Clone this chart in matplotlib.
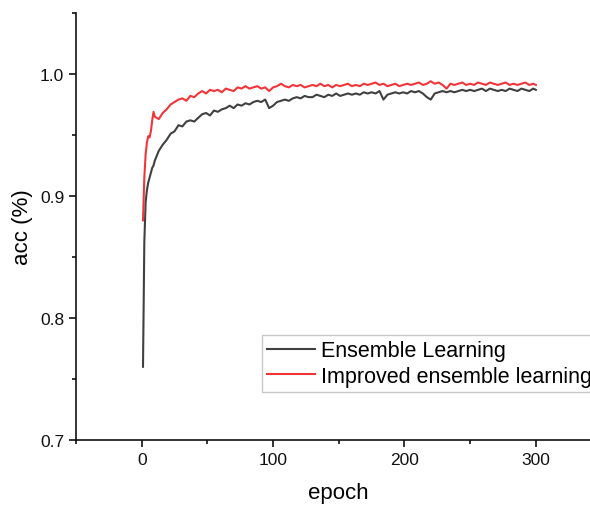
import matplotlib
matplotlib.use('Agg')
import matplotlib.pyplot as plt
from matplotlib.ticker import MultipleLocator

plt.rcParams['font.family'] = ['Liberation Sans', 'DejaVu Sans']

epochs = [1, 2, 3, 4, 5, 6, 7, 8, 9, 10,
          13, 16, 19, 22, 25, 28, 31, 34, 37, 40,
          43, 46, 49, 52, 55, 58, 61, 64, 67, 70,
          73, 76, 79, 82, 85, 88, 91, 94, 97, 100,
          103, 106, 109, 112, 115, 118, 121, 124, 127, 130,
          133, 136, 139, 142, 145, 148, 151, 154, 157, 160,
          163, 166, 169, 172, 175, 178, 181, 184, 187, 190,
          193, 196, 199, 202, 205, 208, 211, 214, 217, 220,
          223, 226, 229, 232, 235, 238, 241, 244, 247, 250,
          253, 256, 259, 262, 265, 268, 271, 274, 277, 280,
          283, 286, 289, 292, 295, 298, 300]

acc_ensemble = [0.760, 0.862, 0.895, 0.905, 0.911, 0.915, 0.919, 0.923, 0.925, 0.929,
                0.937, 0.942, 0.946, 0.951, 0.953, 0.958, 0.957, 0.961, 0.962, 0.961,
                0.964, 0.967, 0.968, 0.966, 0.970, 0.969, 0.971, 0.972, 0.974, 0.972,
                0.975, 0.974, 0.976, 0.975, 0.977, 0.978, 0.977, 0.979, 0.972, 0.974,
                0.977, 0.978, 0.979, 0.978, 0.980, 0.981, 0.980, 0.982, 0.981, 0.981,
                0.983, 0.982, 0.981, 0.983, 0.982, 0.984, 0.982, 0.983, 0.984, 0.983,
                0.984, 0.983, 0.985, 0.984, 0.985, 0.984, 0.986, 0.979, 0.983, 0.984,
                0.985, 0.984, 0.985, 0.984, 0.986, 0.985, 0.986, 0.984, 0.981, 0.979,
                0.984, 0.985, 0.986, 0.985, 0.986, 0.985, 0.986, 0.987, 0.986, 0.987,
                0.986, 0.987, 0.988, 0.986, 0.988, 0.987, 0.986, 0.987, 0.986, 0.988,
                0.987, 0.986, 0.988, 0.987, 0.986, 0.988, 0.987]

acc_improved = [0.880, 0.915, 0.934, 0.944, 0.949, 0.948, 0.953, 0.962, 0.969, 0.965,
                0.963, 0.968, 0.971, 0.975, 0.977, 0.979, 0.980, 0.978, 0.982, 0.981,
                0.984, 0.986, 0.984, 0.987, 0.986, 0.987, 0.985, 0.988, 0.987, 0.986,
                0.989, 0.988, 0.990, 0.988, 0.989, 0.990, 0.988, 0.989, 0.986, 0.989,
                0.990, 0.992, 0.990, 0.989, 0.991, 0.990, 0.991, 0.989, 0.990, 0.991,
                0.990, 0.992, 0.990, 0.991, 0.989, 0.991, 0.990, 0.991, 0.992, 0.990,
                0.991, 0.990, 0.992, 0.991, 0.992, 0.993, 0.991, 0.992, 0.990, 0.991,
                0.992, 0.990, 0.991, 0.992, 0.991, 0.992, 0.993, 0.991, 0.992, 0.994,
                0.992, 0.993, 0.991, 0.988, 0.992, 0.991, 0.992, 0.993, 0.991, 0.992,
                0.991, 0.993, 0.992, 0.991, 0.993, 0.992, 0.991, 0.992, 0.993, 0.991,
                0.992, 0.991, 0.992, 0.993, 0.991, 0.992, 0.991]

fig = plt.figure(figsize=(5.9, 5.06), dpi=100)
# axes run a little past the right edge, as in the cropped original
ax = fig.add_axes([0.1288, 0.1285, 0.8908, 0.8439])

ax.plot(epochs, acc_ensemble, color='#404040', lw=1.5, label='Ensemble Learning')
ax.plot(epochs, acc_improved, color='#f0353a', lw=1.5, label='Improved ensemble learning')

ax.set_xlim(-50, 350)
ax.set_ylim(0.7, 1.05)
ax.xaxis.set_major_locator(MultipleLocator(100))
ax.xaxis.set_minor_locator(MultipleLocator(50))
ax.yaxis.set_major_locator(MultipleLocator(0.1))
ax.yaxis.set_minor_locator(MultipleLocator(0.05))
ax.set_yticks([0.7, 0.8, 0.9, 1.0])
ax.set_yticklabels(['0.7', '0.8', '0.9', '1.0'])

for side in ['top', 'right']:
    ax.spines[side].set_visible(False)
for side in ['left', 'bottom']:
    ax.spines[side].set_linewidth(1.2)
    ax.spines[side].set_color('#111111')

ax.tick_params(which='major', direction='out', length=5, width=1.2, labelsize=12.5, colors='#111111')
ax.tick_params(which='minor', direction='out', length=3, width=1.2, colors='#111111')

ax.set_xlabel('epoch', fontsize=16, labelpad=11)
ax.set_ylabel('acc (%)', fontsize=16, labelpad=5)

# the legend box is cut by the right edge in the original too
leg = ax.legend(loc='upper left', bbox_to_anchor=(0.354, 0.246), borderaxespad=0,
                fontsize=15.5, fancybox=False, framealpha=1, edgecolor='#c8c8c8',
                handlelength=2.2, handletextpad=0.3, labelspacing=0.2, borderpad=0.25)
leg.get_frame().set_linewidth(1.0)

fig.savefig('out.png', dpi=100)
plt.close(fig)
